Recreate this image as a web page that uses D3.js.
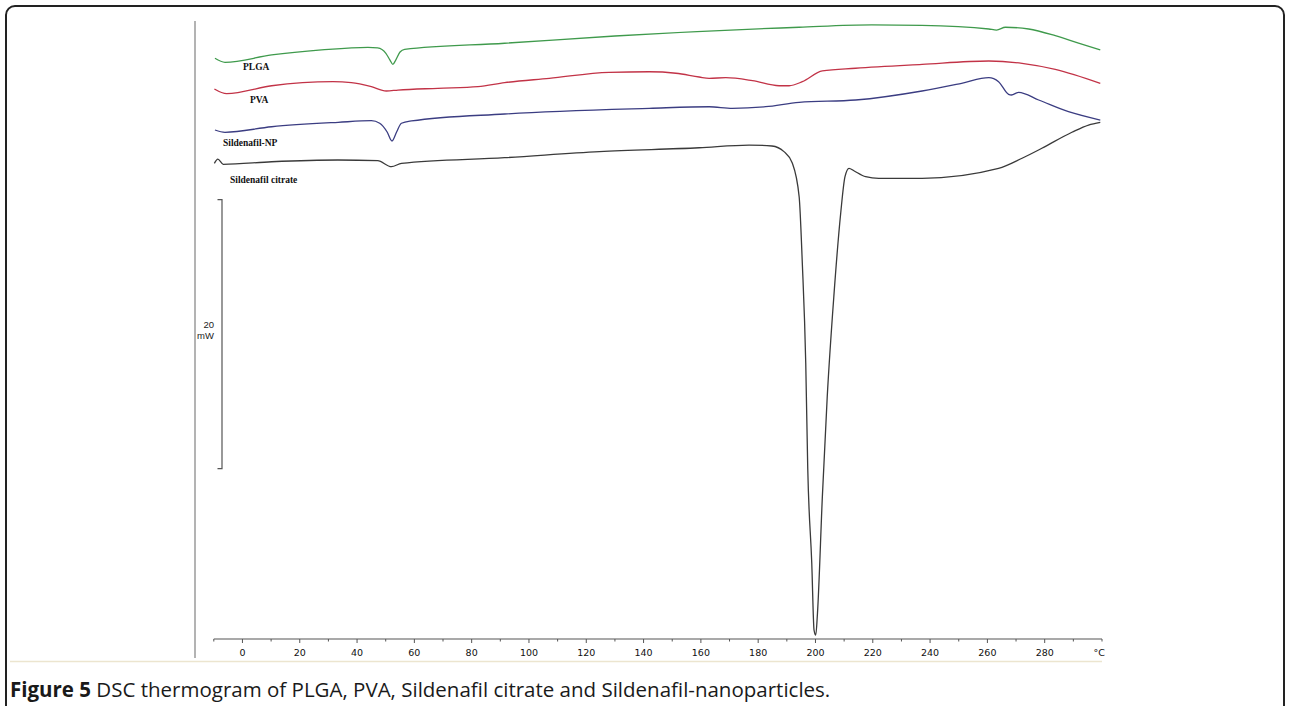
<!DOCTYPE html>
<html>
<head>
<meta charset="utf-8">
<script src="https://cdn.jsdelivr.net/npm/d3@7"></script>
<style>
  body { margin: 0; background: #fff; }
  svg { display: block; }
</style>
</head>
<body>
<div id="content"></div>
<script>
// DSC thermogram, 4 traces stacked, heat flow in mW (offset), temp in degC

var seriesNames = ['PLGA', 'PVA', 'Sildenafil-NP', 'Sildenafil citrate'];
var seriesColors = ['#3f9a4c', '#c23347', '#3b3d82', '#3a3a3a'];

var plgaTemp = [-9.6, -6.1, 10.2, 27.6, 43.8, 47.2, 50, 51.5, 52.5, 53.5, 55, 56.6, 91.5, 130, 194.3, 219.7, 237.1, 260.5, 263.2, 266.3, 274.4, 283.7, 291.8, 299.4];
var plgaFlow = [43.10, 42.80, 43.35, 43.72, 43.92, 43.87, 43.49, 42.97, 42.65, 42.97, 43.57, 43.77, 44.22, 44.76, 45.41, 45.58, 45.55, 45.28, 45.20, 45.41, 45.28, 44.78, 44.22, 43.72];

var pvaTemp = [-9.8, -5.5, 10.2, 31.6, 38.0, 45.0, 50.2, 54.3, 68.2, 82.2, 91.5, 107.1, 128.0, 142.0, 151.3, 159.4, 162.9, 168.7, 178.0, 187.3, 190.8, 195.4, 202.4, 214.0, 237.2, 260.5, 272.1, 283.7, 299.4];
var pvaFlow = [40.82, 40.47, 41.06, 41.36, 41.29, 40.99, 40.67, 40.74, 40.87, 40.99, 41.29, 41.61, 42.06, 42.10, 41.99, 41.71, 41.61, 41.66, 41.44, 41.06, 41.06, 41.36, 42.16, 42.36, 42.65, 42.90, 42.73, 42.28, 41.24];

var npTemp = [-9.6, -6.1, 10.2, 33.4, 45.0, 47.9, 50.5, 52.2, 53.8, 55.5, 59.0, 91.5, 142.0, 162.9, 171.0, 182.6, 194.3, 214.0, 237.2, 251.0, 260.5, 263.9, 267.4, 268.4, 270.9, 277.9, 288.3, 299.4];
var npFlow = [37.77, 37.60, 38.01, 38.34, 38.46, 38.27, 37.62, 36.95, 37.62, 38.27, 38.44, 38.96, 39.38, 39.50, 39.38, 39.50, 39.83, 40.00, 40.67, 41.24, 41.66, 41.36, 40.42, 40.37, 40.57, 40.00, 39.13, 38.51];

var citrateTemp = [-9.8, -8.6, -6.7, 10.2, 33.3, 47.2, 52.0, 55.5, 91.5, 124.6, 159.4, 176.8, 184.8, 189.0, 191.9, 194.3, 195.4, 196.6, 197.3, 198.7, 199.5, 200.1, 200.7, 202.4, 204.1, 206.4, 208.8, 210.3, 211.7, 213.4, 217.5, 222.1, 237.2, 263.9, 272.1, 279.0, 289.5, 295.3, 299.4];
var citrateFlow = [35.29, 35.61, 35.22, 35.41, 35.54, 35.49, 35.04, 35.29, 35.71, 36.16, 36.45, 36.65, 36.58, 36.16, 35.32, 32.81, 27.88, 20.45, 12.6, 5.58, 0.59, 0.22, 1.86, 10.51, 17.94, 25.38, 31.58, 34.30, 34.92, 34.74, 34.30, 34.18, 34.18, 34.92, 35.67, 36.41, 37.60, 38.14, 38.34];

var majorTicks = [0, 20, 40, 60, 80, 100, 120, 140, 160, 180, 200, 220, 240, 260, 280];
var minorTicks = [-10, 10, 30, 50, 70, 90, 110, 130, 150, 170, 190, 210, 230, 250, 270, 290, 300];
var unitLabel = '°C';
var scaleBar = [12.6, 32.6]; // 20 mW bar
var captionBold = 'Figure 5';
var captionText = ' DSC thermogram of PLGA, PVA, Sildenafil citrate and Sildenafil-nanoparticles.';

var width = 1290, height = 706;

var svg = d3.select('#content')
  .append('svg')
  .attr('width', width)
  .attr('height', height);

// outer figure frame
svg.append('rect')
  .attr('x', 6).attr('y', 6)
  .attr('width', 1278).attr('height', 730)
  .attr('rx', 9)
  .attr('fill', 'none')
  .attr('stroke', '#222')
  .attr('stroke-width', 2);

// left edge of the instrument plot
svg.append('line')
  .attr('x1', 195).attr('x2', 195)
  .attr('y1', 21).attr('y2', 658)
  .attr('stroke', '#9a9a9a')
  .attr('stroke-width', 1.5);

// faint line under the axis
svg.append('line')
  .attr('x1', 10).attr('x2', 1102)
  .attr('y1', 661.5).attr('y2', 661.5)
  .attr('stroke', '#ece5cf')
  .attr('stroke-width', 1.5);

var xScale = d3.scaleLinear().domain([-10, 300]).range([213.8, 1102]);
var yScale = d3.scaleLinear().domain([0, 45]).range([638, 32.75]);
var axisY = 639;

//////////////////////////////////////////////
// temperature axis

svg.append('line')
  .attr('x1', xScale(-10)).attr('x2', xScale(300))
  .attr('y1', axisY).attr('y2', axisY)
  .attr('stroke', '#555')
  .attr('stroke-width', 1.2);

svg.selectAll('.majorTick')
  .data(majorTicks)
  .join('line')
    .attr('class', 'majorTick')
    .attr('x1', d => xScale(d)).attr('x2', d => xScale(d))
    .attr('y1', axisY).attr('y2', axisY + 4)
    .attr('stroke', '#555');

svg.selectAll('.minorTick')
  .data(minorTicks)
  .join('line')
    .attr('class', 'minorTick')
    .attr('x1', d => xScale(d)).attr('x2', d => xScale(d))
    .attr('y1', axisY).attr('y2', axisY + 2.5)
    .attr('stroke', '#555');

svg.selectAll('.tickLabel')
  .data(majorTicks)
  .join('text')
    .attr('class', 'tickLabel')
    .attr('x', d => xScale(d))
    .attr('y', 656)
    .attr('text-anchor', 'middle')
    .style('font-family', 'DejaVu Sans, sans-serif')
    .style('font-size', '9.5px')
    .attr('fill', '#111')
    .text(d => d);

svg.append('text')
  .attr('x', xScale(299))
  .attr('y', 656)
  .attr('text-anchor', 'middle')
  .style('font-family', 'DejaVu Sans, sans-serif')
  .style('font-size', '9.5px')
  .attr('fill', '#111')
  .text(unitLabel);

//////////////////////////////////////////////
// 20 mW scale bar

var barX = 222;
svg.append('path')
  .attr('d', 'M' + (barX - 4.5) + ',' + yScale(scaleBar[1]) +
             'H' + barX + 'V' + yScale(scaleBar[0]) + 'H' + (barX - 4.5))
  .attr('fill', 'none')
  .attr('stroke', '#555')
  .attr('stroke-width', 1.2);

svg.append('text')
  .attr('x', 214).attr('y', 328)
  .attr('text-anchor', 'end')
  .style('font-family', 'Liberation Sans, Arial, sans-serif')
  .style('font-size', '9.5px')
  .attr('fill', '#222')
  .text(Math.round(scaleBar[1] - scaleBar[0]));

svg.append('text')
  .attr('x', 214).attr('y', 339)
  .attr('text-anchor', 'end')
  .style('font-family', 'Liberation Sans, Arial, sans-serif')
  .style('font-size', '9.5px')
  .attr('fill', '#222')
  .text('mW');

//////////////////////////////////////////////
// curves

var series = [
  {name: seriesNames[0], temp: plgaTemp, flow: plgaFlow, color: seriesColors[0], lx: 243, ly: 70},
  {name: seriesNames[1], temp: pvaTemp, flow: pvaFlow, color: seriesColors[1], lx: 250, ly: 103},
  {name: seriesNames[2], temp: npTemp, flow: npFlow, color: seriesColors[2], lx: 223, ly: 146},
  {name: seriesNames[3], temp: citrateTemp, flow: citrateFlow, color: seriesColors[3], lx: 230, ly: 183}
];

var line = d3.line()
  .x(d => xScale(d[0]))
  .y(d => yScale(d[1]))
  .curve(d3.curveMonotoneX);

svg.selectAll('.trace')
  .data(series)
  .join('path')
    .attr('class', 'trace')
    .attr('d', d => line(d.temp.map((t, i) => [t, d.flow[i]])))
    .attr('fill', 'none')
    .attr('stroke', d => d.color)
    .attr('stroke-width', 1.3);

svg.selectAll('.traceLabel')
  .data(series)
  .join('text')
    .attr('class', 'traceLabel')
    .attr('x', d => d.lx)
    .attr('y', d => d.ly)
    .style('font-family', 'Liberation Serif, Times New Roman, serif')
    .style('font-weight', 'bold')
    .style('font-size', '9.5px')
    .attr('fill', '#111')
    .text(d => d.name);

//////////////////////////////////////////////
// caption

var caption = svg.append('text')
  .attr('x', 10).attr('y', 697)
  .style('font-family', 'Open Sans, Noto Sans, sans-serif')
  .style('font-size', '20.5px')
  .attr('fill', '#1a1a1a');

caption.append('tspan').style('font-weight', 'bold').text(captionBold);
caption.append('tspan').text(captionText);
</script>
</body>
</html>
